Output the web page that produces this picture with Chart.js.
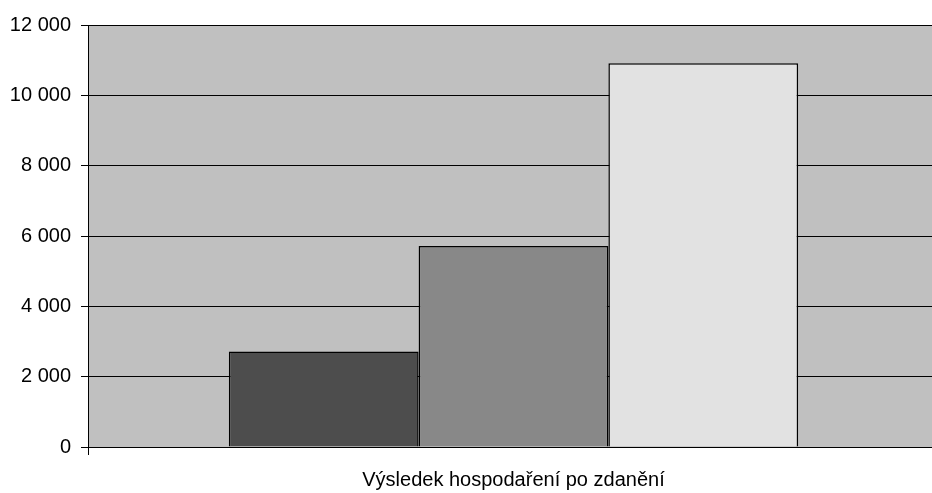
<!DOCTYPE html>
<html>
<head>
<meta charset="utf-8">
<script src="https://cdn.jsdelivr.net/npm/chart.js@4"></script>
<style>
  html, body { margin: 0; padding: 0; background: #fff; overflow: hidden; }
  #wrap { width: 939px; height: 493px; }
</style>
</head>
<body>
<div id="wrap"><canvas id="graph"></canvas></div>
<script>
// Data
const categories = ['Výsledek hospodaření po zdanění'];
const seriesNames = ['Řada 1', 'Řada 2', 'Řada 3'];
const seriesValues = [[2715], [5715], [10915]];
const seriesColors = ['#4d4d4d', '#888888', '#e2e2e2'];
const yTicks = [0, 2000, 4000, 6000, 8000, 10000, 12000];

const fmt = v => String(v).replace(/\B(?=(\d{3})+(?!\d))/g, ' ');

// gray plot area background
const plotBg = {
    id: 'plotBg',
    beforeDraw(chart) {
        const { ctx, chartArea: a } = chart;
        ctx.save();
        ctx.fillStyle = '#c0c0c0';
        ctx.fillRect(a.left, a.top, a.right - a.left, a.bottom - a.top);
        ctx.restore();
    }
};

const ctx = document.getElementById('graph').getContext('2d');
const chart = new Chart(ctx, {
    type: 'bar',
    data: {
        labels: categories,
        datasets: seriesNames.map((name, i) => ({
            label: name,
            data: seriesValues[i],
            backgroundColor: seriesColors[i],
            borderColor: '#000',
            borderWidth: 1.5,
            categoryPercentage: 0.669,
            barPercentage: 1,
        })),
    },
    options: {
        responsive: true,
        maintainAspectRatio: false,
        animation: false,
        layout: { padding: { top: 25, right: 0, left: 0, bottom: 0 } },
        plugins: {
            legend: { display: false },
            tooltip: { enabled: false },
        },
        scales: {
            x: {
                offset: true,
                grid: {
                    offset: true,
                    drawOnChartArea: false,
                    drawTicks: true,
                    tickLength: 8,
                    color: '#000',
                },
                border: { color: '#000', width: 1 },
                ticks: {
                    color: '#000',
                    padding: 13,
                    font: { family: 'Arial, "Liberation Sans", sans-serif', size: 20 },
                },
                afterFit(scale) { scale.height = 46; },
            },
            y: {
                min: 0,
                max: 12000,
                afterBuildTicks(scale) {
                    scale.ticks = yTicks.map(v => ({ value: v }));
                },
                grid: {
                    color: '#000',
                    lineWidth: 1,
                    tickLength: 7,
                },
                border: { color: '#000', width: 1 },
                ticks: {
                    color: '#000',
                    padding: 10,
                    font: { family: 'Arial, "Liberation Sans", sans-serif', size: 20 },
                    callback: v => fmt(v),
                },
                afterFit(scale) { scale.width = 88; },
            },
        },
    },
    plugins: [plotBg],
});
</script>
</body>
</html>
